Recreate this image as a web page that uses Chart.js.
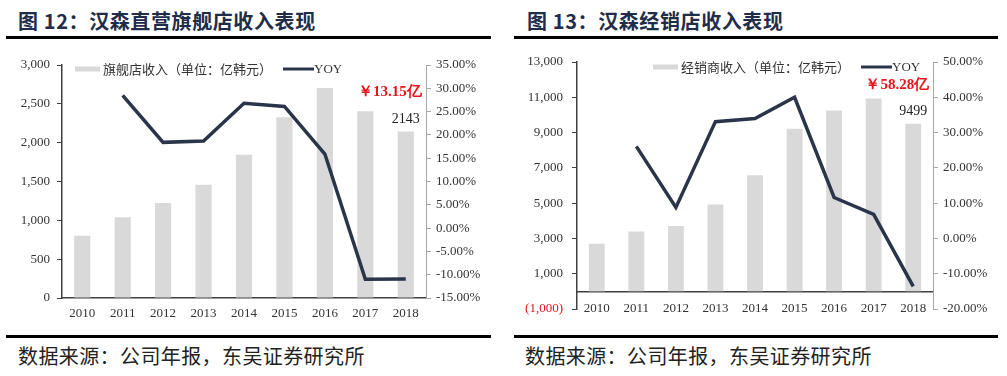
<!DOCTYPE html>
<html>
<head>
<meta charset="utf-8">
<script src="https://cdn.jsdelivr.net/npm/chart.js@4.4.1/dist/chart.umd.min.js"></script>
<style>
body { margin: 0; width: 1007px; height: 376px; background: #fff; position: relative; overflow: hidden; font-family: "Noto Sans CJK SC", sans-serif; }
.title { position: absolute; top: 6px; font-size: 20px; font-weight: bold; letter-spacing: 0.6px; color: #1f2d4a; white-space: nowrap; }
.rule { position: absolute; height: 3px; background: #000; }
.src { position: absolute; top: 341px; font-size: 20px; letter-spacing: 0.4px; color: #222; white-space: nowrap; }
canvas { position: absolute; top: 40px; }
</style>
</head>
<body>
<div class="title" style="left:18px">图 12：汉森直营旗舰店收入表现</div>
<div class="title" style="left:527px">图 13：汉森经销店收入表现</div>
<div class="rule" style="left:6px;width:485px;top:36px"></div>
<div class="rule" style="left:514px;width:484px;top:36px"></div>

<canvas id="flagship" width="500" height="290" style="left:0"></canvas>
<canvas id="dealer" width="507" height="290" style="left:500px"></canvas>

<div class="rule" style="left:6px;width:485px;top:335px"></div>
<div class="rule" style="left:514px;width:484px;top:335px"></div>
<div class="src" style="left:18px">数据来源：公司年报，东吴证券研究所</div>
<div class="src" style="left:525px">数据来源：公司年报，东吴证券研究所</div>

<script>
// data
const years = ['2010', '2011', '2012', '2013', '2014', '2015', '2016', '2017', '2018'];

const flagshipRevenue = [800, 1040, 1222, 1458, 1845, 2327, 2704, 2404, 2143];
const flagshipYoy = [null, 28.5, 18.4, 18.7, 26.8, 26.1, 15.9, -11.0, -10.9];
const flagshipNote = '￥13.15亿';

const dealerRevenue = [2700, 3390, 3710, 4920, 6585, 9220, 10255, 10935, 9499];
const dealerYoy = [null, 26.1, 8.8, 33.1, 34.0, 40.0, 11.6, 6.8, -13.6];
const dealerNote = '￥58.28亿';

// axis ranges: [min, max, step]
const flagshipAxis = [0, 3000, 500];
const flagshipPctAxis = [-15, 35, 5];
const dealerAxis = [-1000, 13000, 2000];
const dealerPctAxis = [-20, 50, 10];

const serif = 'Liberation Serif';
const dark = '#404040';
const gray = '#a6a6a6';
const lineColor = '#2b3549';

function fmtNum(v) {
    let s = Math.abs(v).toLocaleString('en-US');
    return v < 0 ? '(' + s + ')' : s;
}

// legend + value labels drawn by hand so they sit inside the plot
const extras = {
    id: 'extras',
    afterDatasetsDraw(chart, args, opts) {
        const ctx = chart.ctx;
        ctx.save();
        ctx.textBaseline = 'middle';

        // legend
        let x = opts.legendX, y = opts.legendY;
        ctx.fillStyle = '#d9d9d9';
        ctx.fillRect(x, y - 2.5, 25, 5);
        x += 28;
        ctx.fillStyle = '#333';
        ctx.font = '13px "Noto Sans CJK SC"';
        ctx.textAlign = 'left';
        const barLabel = chart.data.datasets[0].label;
        ctx.fillText(barLabel, x, y);
        x += ctx.measureText(barLabel).width + 11;
        ctx.strokeStyle = lineColor;
        ctx.lineWidth = 3;
        ctx.beginPath();
        ctx.moveTo(x, y);
        ctx.lineTo(x + 31, y);
        ctx.stroke();
        ctx.font = '13px "' + serif + '"';
        ctx.fillText(chart.data.datasets[1].label, x + 31, y + 1);

        // last bar value + red note
        const meta = chart.getDatasetMeta(0);
        const last = meta.data.length - 1;
        const bar = meta.data[last];
        ctx.textAlign = 'center';
        ctx.fillStyle = '#222';
        ctx.font = '14px "' + serif + '"';
        ctx.fillText(String(chart.data.datasets[0].data[last]), bar.x, bar.y - 12);
        ctx.textAlign = 'right';
        ctx.fillStyle = '#e8151b';
        ctx.font = 'bold 15px "' + serif + '"';
        ctx.fillText(opts.note, bar.x + 16, bar.y - 39);
        ctx.restore();
    }
};

function makeChart(id, cfg) {
    const tickFont = { family: serif, size: 13 };
    const xScale = {
        grid: { display: false, drawTicks: false, tickLength: 0 },
        border: { display: true, color: dark, width: 1.5 },
        ticks: { font: tickFont, color: '#333', padding: cfg.xPad, maxRotation: 0 }
    };
    if (cfg.xAtZero) {
        // category axis sits on the zero line of the bar axis
        xScale.position = { y: 0 };
    } else {
        xScale.afterFit = s => { s.height = cfg.xHeight; };
    }
    return new Chart(document.getElementById(id), {
        type: 'bar',
        data: {
            labels: years,
            datasets: [{
                label: cfg.barLabel,
                data: cfg.bars,
                yAxisID: 'y',
                backgroundColor: '#d9d9d9',
                barPercentage: 0.4,
                categoryPercentage: 1,
                order: 2
            }, {
                type: 'line',
                label: 'YOY',
                data: cfg.yoy,
                yAxisID: 'y1',
                borderColor: lineColor,
                borderWidth: 3.5,
                pointRadius: 0,
                tension: 0,
                order: 1
            }]
        },
        options: {
            responsive: false,
            animation: false,
            layout: { padding: { top: cfg.padTop, left: 0, right: 0, bottom: cfg.padBottom } },
            plugins: {
                legend: { display: false },
                tooltip: { enabled: false },
                extras: { legendX: cfg.legendX, legendY: cfg.legendY, note: cfg.note }
            },
            scales: {
                x: xScale,
                y: {
                    position: 'left',
                    min: cfg.axis[0], max: cfg.axis[1],
                    ticks: {
                        stepSize: cfg.axis[2],
                        font: tickFont,
                        padding: cfg.yPad,
                        color: c => c.tick.value < 0 ? '#e3131b' : '#333',
                        callback: v => fmtNum(v)
                    },
                    grid: { drawOnChartArea: false, color: dark, tickLength: 5 },
                    border: { color: dark, width: 1.5 },
                    afterFit(s) { s.width = cfg.leftW; }
                },
                y1: {
                    position: 'right',
                    min: cfg.pctAxis[0], max: cfg.pctAxis[1],
                    ticks: {
                        stepSize: cfg.pctAxis[2],
                        font: tickFont,
                        color: '#333',
                        padding: 5,
                        callback: v => v.toFixed(2) + '%'
                    },
                    grid: { drawOnChartArea: false, color: gray, tickLength: 5 },
                    border: { color: gray, width: 1 },
                    afterFit(s) { s.width = cfg.rightW; }
                }
            }
        },
        plugins: [extras]
    });
}

makeChart('flagship', {
    barLabel: '旗舰店收入（单位：亿韩元）',
    bars: flagshipRevenue,
    yoy: flagshipYoy,
    note: flagshipNote,
    axis: flagshipAxis,
    pctAxis: flagshipPctAxis,
    padTop: 25, padBottom: 0, leftW: 62, rightW: 74, xHeight: 32, xPad: 8, yPad: 7,
    xAtZero: false,
    legendX: 75, legendY: 29
});

makeChart('dealer', {
    barLabel: '经销商收入（单位：亿韩元）',
    bars: dealerRevenue,
    yoy: dealerYoy,
    note: dealerNote,
    axis: dealerAxis,
    pctAxis: dealerPctAxis,
    padTop: 22, padBottom: 21, leftW: 77, rightW: 74, xPad: 9, yPad: 9,
    xAtZero: true,
    legendX: 153, legendY: 27
});
</script>
</body>
</html>
